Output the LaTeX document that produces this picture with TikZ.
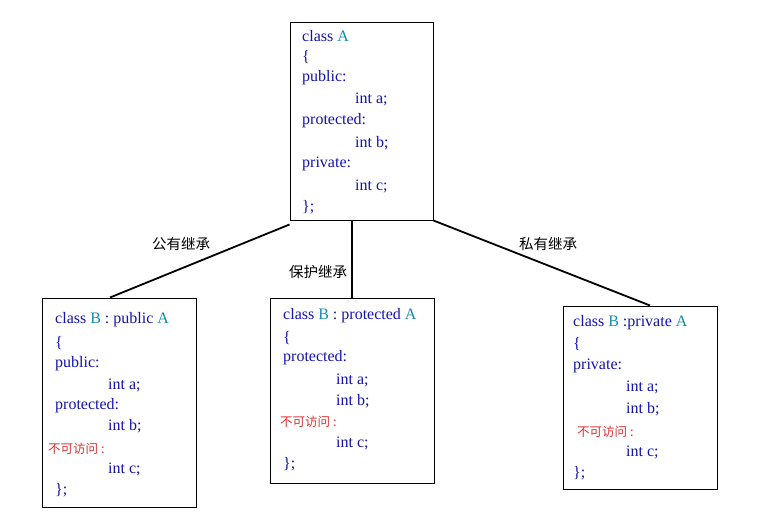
\documentclass[tikz,border=0pt]{standalone}
\usepackage{fontspec}
\setmainfont{Liberation Serif}
\newfontfamily\cjk{Noto Sans CJK SC}
\definecolor{navy}{RGB}{20,20,170}
\definecolor{tealc}{RGB}{20,140,170}
\definecolor{redc}{RGB}{220,50,50}
\begin{document}
\begin{tikzpicture}[x=1pt,y=-1pt,
  box/.style={draw,line width=1pt},
  t/.style={anchor=west,inner sep=0pt,text=navy,font=\fontsize{16}{18}\selectfont},
  r/.style={anchor=west,inner sep=0pt,text=redc,font=\cjk\fontsize{12.5}{14}\selectfont},
  lab/.style={inner sep=0pt,font=\cjk\fontsize{14.5}{16}\selectfont},
  ln/.style={line width=1.8pt}]
\useasboundingbox[fill=white] (0,0) rectangle (773,517);
\node[box,minimum width=143pt,minimum height=198pt] (A) at (361.5,121) {};
\node[box,minimum width=154pt,minimum height=209pt] (B1) at (119,402.5) {};
\node[box,minimum width=164pt,minimum height=185pt] (B2) at (352,390.5) {};
\node[box,minimum width=154pt,minimum height=183pt] (B3) at (640,397.5) {};
% top box
\node[t] (a1) at (302,36) {class \textcolor{tealc}{A}};
\node[t] (a2) at (302,57) {\{};
\node[t] (a3) at (302,78) {public:};
\node[t] (a4) at (355,99) {int a;};
\node[t] (a5) at (302,121) {protected:};
\node[t] (a6) at (355,143) {int b;};
\node[t] (a7) at (302,164) {private:};
\node[t] (a8) at (355,186) {int c;};
\node[t] (a9) at (302,207) {\};};
% left
\node[t] (b1) at (55,320) {class \textcolor{tealc}{B} : public \textcolor{tealc}{A}};
\node[t] (b2) at (55,343) {\{};
\node[t] (b3) at (55,364) {public:};
\node[t] (b4) at (108,385) {int a;};
\node[t] (b5) at (55,406) {protected:};
\node[t] (b6) at (108,426) {int b;};
\node[r] (b7) at (48,449) {不可访问 :};
\node[t] (b8) at (108,469) {int c;};
\node[t] (b9) at (55,490) {\};};
% mid
\node[t] (c1) at (283,316) {class \textcolor{tealc}{B} : protected \textcolor{tealc}{A}};
\node[t] (c2) at (283,338) {\{};
\node[t] (c3) at (283,358) {protected:};
\node[t] (c4) at (336,380) {int a;};
\node[t] (c5) at (336,401) {int b;};
\node[r] (c6) at (280,422) {不可访问 :};
\node[t] (c7) at (336,443) {int c;};
\node[t] (c8) at (283,464) {\};};
% right
\node[t] (d1) at (573,323) {class \textcolor{tealc}{B} :private \textcolor{tealc}{A}};
\node[t] (d2) at (573,344) {\{};
\node[t] (d3) at (573,366) {private:};
\node[t] (d4) at (626,387) {int a;};
\node[t] (d5) at (626,409) {int b;};
\node[r] (d6) at (577,432) {不可访问 :};
\node[t] (d7) at (626,452) {int c;};
\node[t] (d8) at (573,473) {\};};
% connectors
\draw[ln] ([yshift=-4pt]A.south west) -- ([xshift=-9pt]B1.north);
\draw[ln] (A.south -| 352,0) -- (B2.north -| 352,0);
\draw[ln] (A.south east) -- ([xshift=10pt]B3.north);
\node[lab] (l1) at (181,244) {公有继承};
\node[lab] (l2) at (318,272) {保护继承};
\node[lab] (l3) at (548,244) {私有继承};
\end{tikzpicture}
\end{document}
